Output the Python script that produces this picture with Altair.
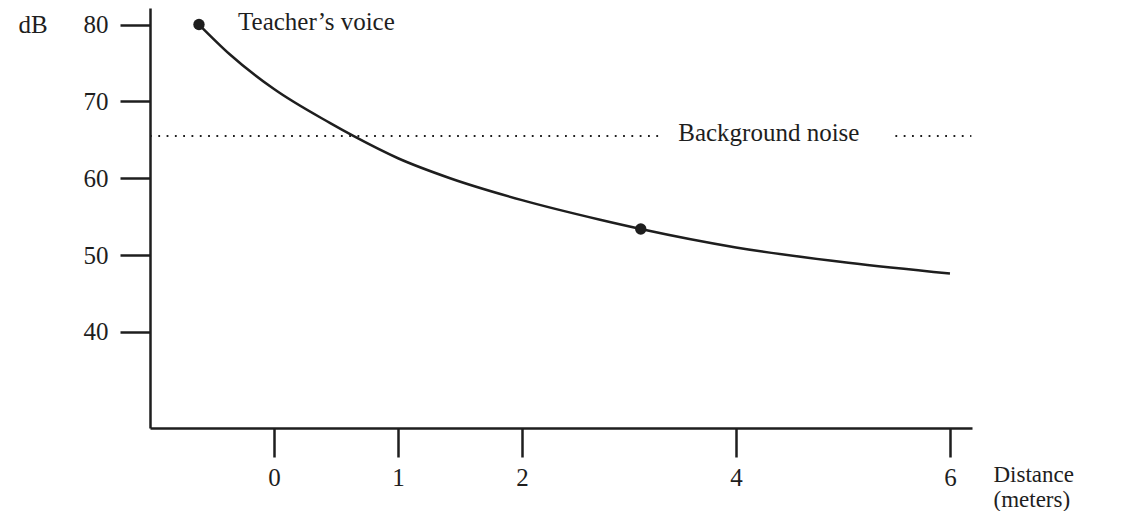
import altair as alt
import pandas as pd

FONT = "Liberation Serif"
INK = "#1e1e1e"

# Teacher's voice curve (distance in meters, level in dB)
dist = [-0.605, -0.355, 0.0, 0.45, 0.64, 1.0, 1.42, 2.0, 2.73, 3.11, 4.0, 5.05, 6.0]
db = [80.0, 76.1, 71.6, 67.2, 65.5, 62.6, 60.0, 57.15, 54.6, 53.4, 51.0, 49.0, 47.6]

# highlighted points
pt_dist = [-0.605, 3.11]
pt_db = [80.0, 53.4]

# background noise level and dotted segments
noise_db = 65.5
noise_x0 = [-1.0, 5.49]
noise_x1 = [3.29, 6.2]

# annotations
ann_text = ["Teacher\u2019s voice", "Background noise"]
ann_x = [-0.29, 3.46]
ann_y = [80.0, 65.5]

x_ticks = [0, 1, 2, 4, 6]
y_ticks = [40, 50, 60, 70, 80]

curve = pd.DataFrame({"d": dist, "db": db})
pts = pd.DataFrame({"d": pt_dist, "db": pt_db})
noise = pd.DataFrame({"x0": noise_x0, "x1": noise_x1, "y": [noise_db] * len(noise_x0)})
ann = pd.DataFrame({"x": ann_x, "y": ann_y, "t": ann_text})

FS = 25

xscale = alt.Scale(domain=[-1, 2, 6.206], range=[0, 372, 822], nice=False, zero=False)
yscale = alt.Scale(domain=[27.5, 82.15], nice=False, zero=False)

xaxis = alt.Axis(
    values=x_ticks, format="d", grid=False, domainColor=INK, domainWidth=2.5,
    tickColor=INK, tickWidth=2.5, tickSize=29, labelFont=FONT, labelFontSize=FS,
    labelColor=INK, labelPadding=8,
    title=["Distance", "(meters)"], titleFont=FONT, titleFontSize=23,
    titleFontWeight="normal", titleColor=INK, titleX=843, titleY=53,
    titleAlign="left", titleBaseline="alphabetic", titleLineHeight=25, titleAnchor="start",
)
yaxis = alt.Axis(
    values=y_ticks, format="d", grid=False, domainColor=INK, domainWidth=2.5,
    tickColor=INK, tickWidth=2.5, tickSize=30, labelFont=FONT, labelFontSize=FS,
    labelColor=INK, labelPadding=12,
    title="dB", titleFont=FONT, titleFontSize=FS, titleFontWeight="normal",
    titleColor=INK, titleAngle=0, titleX=-132, titleY=16.5, titleAlign="left",
    titleBaseline="middle", titleAnchor="start",
)

line = alt.Chart(curve).mark_line(
    color=INK, strokeWidth=2.5, interpolate="monotone"
).encode(
    x=alt.X("d:Q", scale=xscale, axis=xaxis),
    y=alt.Y("db:Q", scale=yscale, axis=yaxis),
)

dots = alt.Chart(pts).mark_circle(color=INK, opacity=1, size=130).encode(
    x=alt.X("d:Q", scale=xscale),
    y=alt.Y("db:Q", scale=yscale),
)

rule = alt.Chart(noise).mark_rule(
    color=INK, strokeWidth=2, strokeDash=[1.8, 6.5]
).encode(
    x=alt.X("x0:Q", scale=xscale),
    x2="x1:Q",
    y=alt.Y("y:Q", scale=yscale),
)

text = alt.Chart(ann).mark_text(
    font=FONT, fontSize=FS, color=INK, align="left", baseline="alphabetic", dy=5
).encode(
    x=alt.X("x:Q", scale=xscale),
    y=alt.Y("y:Q", scale=yscale),
    text="t:N",
)

chart = alt.layer(rule, line, dots, text).properties(
    width=822, height=420,
    padding={"left": 142, "top": 0, "right": 145, "bottom": 83},
    autosize=alt.AutoSizeParams(type="none"),
    background="white",
).configure_view(stroke=None)

chart.save("out.html", embed_options={"renderer": "svg", "actions": False})
